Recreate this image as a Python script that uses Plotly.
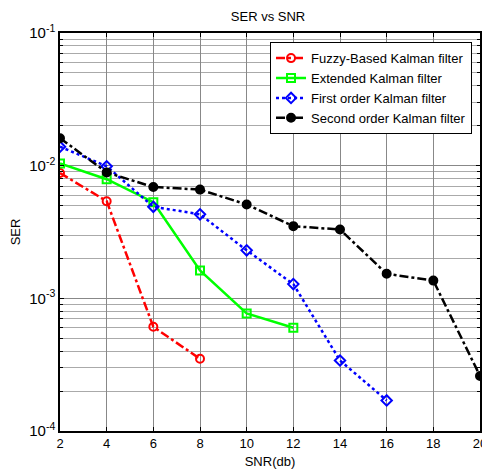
import plotly.graph_objects as go

snr = [2, 4, 6, 8, 10, 12, 14, 16, 18, 20]
fuzzy = [0.0088, 0.0054, 0.00061, 0.00035]
extended = [0.0104, 0.0079, 0.0053, 0.00162, 0.00077, 0.0006]
first_order = [0.0139, 0.0099, 0.0049, 0.0043, 0.0023, 0.00128, 0.00034, 0.00017]
second_order = [0.0161, 0.0089, 0.0069, 0.0066, 0.0051, 0.0035, 0.0033, 0.00153, 0.00136, 0.00026]

names = ["Fuzzy-Based Kalman filter", "Extended Kalman filter",
         "First order Kalman filter", "Second order Kalman filter"]
ytick_vals = [1e-4, 1e-3, 1e-2, 1e-1]
ytick_text = ["10<sup>-4</sup>", "10<sup>-3</sup>", "10<sup>-2</sup>", "10<sup>-1</sup>"]

series = [
    (fuzzy, names[0], "red", "dashdot", "circle-open"),
    (extended, names[1], "#00ff00", "solid", "square-open"),
    (first_order, names[2], "blue", "dot", "diamond-open"),
    (second_order, names[3], "black", "dashdot", "circle"),
]

fig = go.Figure()
for ys, name, color, dash, sym in series:
    fig.add_trace(go.Scatter(
        x=snr[:len(ys)], y=ys, name=name, mode="lines+markers",
        line=dict(color=color, width=2.5, dash=dash),
        marker=dict(symbol=sym, size=8, color=color, line=dict(color=color, width=2)),
    ))

# page body has an 8px margin, so the figure is offset by 8px in the window
W, H = 490, 466
fig.update_layout(
    width=W, height=H,
    margin=dict(l=52, r=18, t=25, b=43),
    paper_bgcolor="white", plot_bgcolor="white",
    font=dict(family="Liberation Sans, Arial", size=13, color="black"),
    title=dict(text="SER vs SNR", x=(268 - 8) / W, xanchor="center", y=1 - 8 / H,
               yref="container", yanchor="middle", font=dict(size=13)),
    legend=dict(x=0.981, y=0.977, xanchor="right", yanchor="top",
                bgcolor="white", bordercolor="black", borderwidth=1,
                font=dict(size=13), tracegroupgap=0, itemwidth=30),
    showlegend=True,
)
fig.update_xaxes(
    range=[2, 20], tickvals=snr, ticks="inside", ticklen=4, tickcolor="black",
    showline=True, linecolor="black", linewidth=1.5, mirror="ticks",
    showgrid=True, gridcolor="#888888", gridwidth=1, zeroline=False,
    automargin=False, tickfont=dict(size=13),
    title=dict(text="SNR(db)", standoff=7, font=dict(size=13)),
)
fig.update_yaxes(
    type="log", range=[-4, -1], tickvals=ytick_vals, ticktext=ytick_text,
    ticks="inside", ticklen=4, tickcolor="black",
    showline=True, linecolor="black", linewidth=1.5, mirror="ticks",
    showgrid=True, gridcolor="#888888", gridwidth=1, zeroline=False,
    automargin=False, tickfont=dict(size=15),
    minor=dict(dtick="D1", showgrid=True, gridcolor="#aaaaaa", gridwidth=1,
               ticks="inside", ticklen=3, tickcolor="black"),
    title=dict(text="SER", standoff=6, font=dict(size=13)),
)

fig.write_html("out.html")
